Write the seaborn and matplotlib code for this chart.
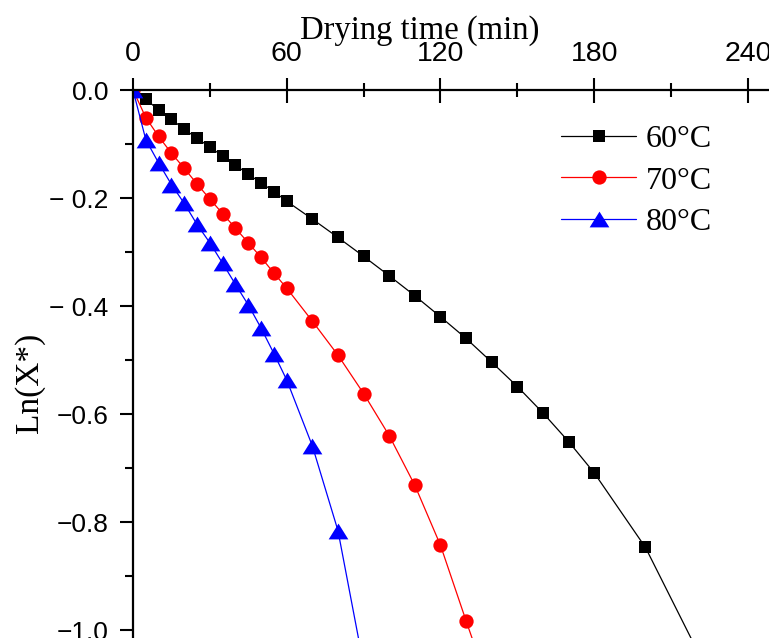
import numpy as np
import pandas as pd
import seaborn as sns
import matplotlib.pyplot as plt
import matplotlib.ticker as ticker
from matplotlib.path import Path

# drying curves
time_60 = [0, 5, 10, 15, 20, 25, 30, 35, 40, 45, 50, 55, 60, 70, 80, 90, 100,
           110, 120, 130, 140, 150, 160, 170, 180, 200, 220]
ln_60 = [0.0, -0.017, -0.037, -0.054, -0.073, -0.089, -0.106, -0.122, -0.139,
         -0.156, -0.172, -0.188, -0.206, -0.239, -0.273, -0.308, -0.344, -0.381,
         -0.420, -0.460, -0.504, -0.549, -0.598, -0.651, -0.709, -0.847, -1.036]

time_70 = [0, 5, 10, 15, 20, 25, 30, 35, 40, 45, 50, 55, 60, 70, 80, 90, 100,
           110, 120, 130, 140]
ln_70 = [0.0, -0.051, -0.086, -0.117, -0.145, -0.174, -0.202, -0.229, -0.256,
         -0.283, -0.310, -0.339, -0.367, -0.428, -0.491, -0.562, -0.640, -0.732,
         -0.843, -0.983, -1.12]

time_80 = [0, 5, 10, 15, 20, 25, 30, 35, 40, 45, 50, 55, 60, 70, 80, 90]
ln_80 = [0.0, -0.092, -0.135, -0.175, -0.210, -0.249, -0.283, -0.321, -0.360,
         -0.398, -0.441, -0.488, -0.537, -0.659, -0.816, -1.065]

temps = ['60°C', '70°C', '80°C']
x_ticks = [0, 60, 120, 180, 240]
y_ticks = [0.0, -0.2, -0.4, -0.6, -0.8, -1.0]
y_tick_labels = ['0.0', '\u2212 0.2', '\u2212 0.4', '\u22120.6', '\u22120.8', '\u22121.0']

df = pd.concat([
    pd.DataFrame({'time': time_60, 'ln': ln_60, 'temp': temps[0]}),
    pd.DataFrame({'time': time_70, 'ln': ln_70, 'temp': temps[1]}),
    pd.DataFrame({'time': time_80, 'ln': ln_80, 'temp': temps[2]}),
])

sns.set_style('ticks')
plt.rcParams['font.family'] = ['Liberation Sans', 'DejaVu Sans']
for key in ['axes.edgecolor', 'xtick.color', 'ytick.color', 'text.color', 'axes.labelcolor']:
    plt.rcParams[key] = 'black'

# Origin-style triangle, a bit wider than tall
tri = Path([(-1, -0.8), (1, -0.8), (0, 0.8), (-1, -0.8)],
           [Path.MOVETO, Path.LINETO, Path.LINETO, Path.CLOSEPOLY])
palette = {'60°C': '#000000', '70°C': '#ff0000', '80°C': '#0000ff'}

fig = plt.figure(figsize=(7.69, 6.38), dpi=100)
ax = fig.add_axes([133 / 769, 0, 1 - 133 / 769, 548 / 638])

sns.lineplot(data=df, x='time', y='ln', hue='temp', style='temp',
             hue_order=temps, style_order=temps, palette=palette,
             markers=['s', 'o', tri], dashes=False, linewidth=0.9,
             markeredgewidth=0, legend=False, sort=False, ax=ax)

for line, lab, ms in zip(ax.lines, temps, [9.3, 10.3, 14.2]):
    line.set_label(lab)
    line.set_markersize(ms)

ax.set_xlim(0, 248.2)
ax.set_ylim(-1.0146, 0)

ax.xaxis.tick_top()
ax.xaxis.set_label_position('top')
ax.set_xticks(x_ticks)
ax.set_xticklabels([str(t) for t in x_ticks])
ax.xaxis.set_minor_locator(ticker.MultipleLocator(30))
ax.set_yticks(y_ticks)
ax.set_yticklabels(y_tick_labels)
ax.yaxis.set_minor_locator(ticker.MultipleLocator(0.1))

ax.tick_params(axis='x', which='major', direction='inout', length=18, width=1.5,
               labelsize=20.5, pad=7.5, top=True, bottom=False)
ax.tick_params(axis='x', which='minor', direction='inout', length=9.5, width=1.5,
               top=True, bottom=False)
ax.tick_params(axis='y', which='major', direction='out', length=9.4, width=1.5,
               labelsize=19, pad=8.5)
ax.tick_params(axis='y', which='minor', direction='out', length=5.8, width=1.5)

for side in ['bottom', 'right']:
    ax.spines[side].set_visible(False)
for side in ['top', 'left']:
    ax.spines[side].set_linewidth(1.6)

ax.set_xlabel('Drying time (min)', family='Liberation Serif', fontsize=23.5)
ax.xaxis.set_label_coords(0.45, 1.094)
ax.set_ylabel('Ln(X*)', family='Liberation Serif', fontsize=24)
ax.yaxis.set_label_coords(-0.138, 0.465)

ax.legend(loc='upper left', bbox_to_anchor=(0.673, 0.936), frameon=False,
          prop={'family': 'Liberation Serif', 'size': 23}, handlelength=2.35,
          handletextpad=0.3, labelspacing=0.37, borderpad=0, borderaxespad=0)

plt.savefig('out.png', dpi=100)
